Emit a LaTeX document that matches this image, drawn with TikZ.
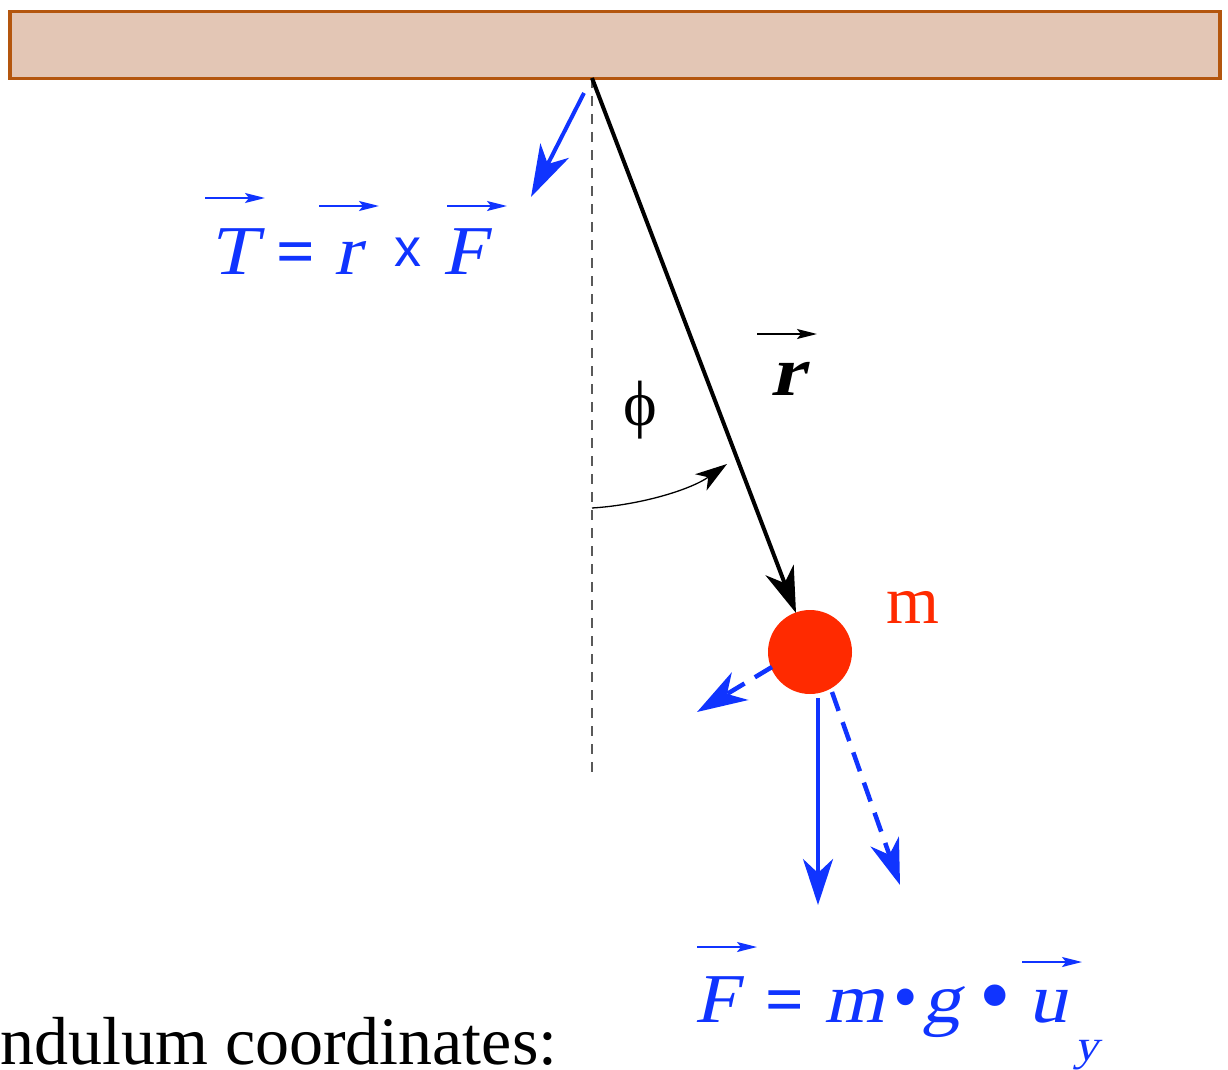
\documentclass[tikz,border=0pt]{standalone}
\usepackage{fontspec}
\setmainfont{Liberation Serif}
\newfontfamily\sansx{Liberation Sans}
\newfontfamily\slt{Liberation Serif}[FakeSlant=0.22, FakeStretch=1.1]
\usetikzlibrary{arrows.meta}
\definecolor{bfill}{RGB}{227,198,181}
\definecolor{bdraw}{RGB}{180,86,14}
\definecolor{vblue}{RGB}{16,52,255}
\definecolor{mred}{RGB}{255,42,0}
\begin{document}
\begin{tikzpicture}[x=1pt,y=-1pt,
  lbl/.style={inner sep=0pt, anchor=base west, font=\fontsize{68}{80}\selectfont},
  blbl/.style={lbl, text=vblue, font=\fontsize{70}{80}\slt},
  eqlbl/.style={lbl, text=vblue, font=\fontsize{68}{80}\selectfont\bfseries},
  vecbar/.style={line width=2pt, -{Stealth[length=20pt,width=10pt,inset=4pt]}},
  force/.style={vblue, line width=4pt, -{Stealth[length=46pt,width=30pt,inset=14pt]}},
  dforce/.style={force, line width=4.5pt, dash pattern=on 20pt off 12pt}]
\useasboundingbox (0,0) rectangle (1228,1070);
% ceiling bar
\node[draw=bdraw, fill=bfill, line width=3.5pt, minimum width=1210pt, minimum height=67pt, inner sep=0pt, anchor=north west] (bar) at (8,10) {};
\coordinate (pivot) at (592,78);
\coordinate (vend) at (592,773);
\draw[gray!70!black, line width=1.3pt, dash pattern=on 10pt off 8pt] (pivot) -- (vend);
% mass
\node[circle, fill=mred, minimum size=84pt, inner sep=0pt] (mass) at (810,652) {};
\node[lbl, text=mred] (mlab) at (886,623) {m};
% r vector
\coordinate (rtip) at (796,613);
\draw[line width=4pt, -{Stealth[length=46pt,width=30pt,inset=14pt]}] (pivot) -- (rtip);
\node[lbl, font=\fontsize{70}{80}\slt\bfseries] (rlab) at (770,395) {r};
\draw[vecbar] (757,334) -- (817,334);
% angle
\coordinate (a1) at (592,508);
\coordinate (a2) at (727,464);
\draw[line width=1.3pt, -{Stealth[length=32pt,width=20pt,inset=9pt]}] (a1) .. controls (640,505) and (690,490) .. (a2);
\node[inner sep=0pt, font=\fontsize{64}{70}\selectfont] (phi) at (640,410) {ϕ};
% torque arrow
\coordinate (t1) at (584,93);
\coordinate (t2) at (531,197);
\draw[force, -{Stealth[length=52pt,width=32pt,inset=15pt]}] (t1) -- (t2);
% torque formula
\node[blbl] (T) at (209,274) {T};
\node[eqlbl] (eq1) at (276,274) {=};
\node[blbl] (r1) at (334,274) {r};
\node[blbl, font=\fontsize{54}{60}\sansx] (x) at (394,266) {x};
\node[blbl] (F1) at (442,274) {F};
\draw[vecbar, vblue] (205,198) -- (265,198);
\draw[vecbar, vblue] (319,206) -- (379,206);
\draw[vecbar, vblue] (447,206) -- (507,206);
% forces on mass
\coordinate (f1s) at (818,698);
\coordinate (f1e) at (818,905);
\draw[force] (f1s) -- (f1e);
\coordinate (f2s) at (832,692);
\coordinate (f2e) at (900,885);
\draw[dforce] (f2s) -- (f2e);
\coordinate (f3s) at (772,667);
\coordinate (f3e) at (697,712);
\draw[dforce, -{Stealth[length=50pt,width=32pt,inset=15pt]}] (f3s) -- (f3e);
% force formula
\node[blbl] (F2) at (694,1022) {F};
\node[eqlbl] (eq2) at (765,1022) {=};
\node[blbl] (m2) at (824,1022) {m};
\node[blbl, font=\fontsize{70}{80}\selectfont] (b1) at (893,1020) {•};
\node[blbl, font=\fontsize{90}{100}\selectfont] (b2) at (979,1025) {•};
\node[blbl] (g2) at (922,1022) {g};
\node[blbl] (u2) at (1028,1022) {u};
\node[blbl, font=\fontsize{44}{50}\slt] (y2) at (1074,1060) {y};
\draw[vecbar, vblue] (697,947) -- (757,947);
\draw[vecbar, vblue] (1022,962) -- (1082,962);
% bottom text
\node[lbl, font=\fontsize{68}{80}\selectfont] (cap) at (0,1064) {ndulum coordinates:};
\end{tikzpicture}
\end{document}
